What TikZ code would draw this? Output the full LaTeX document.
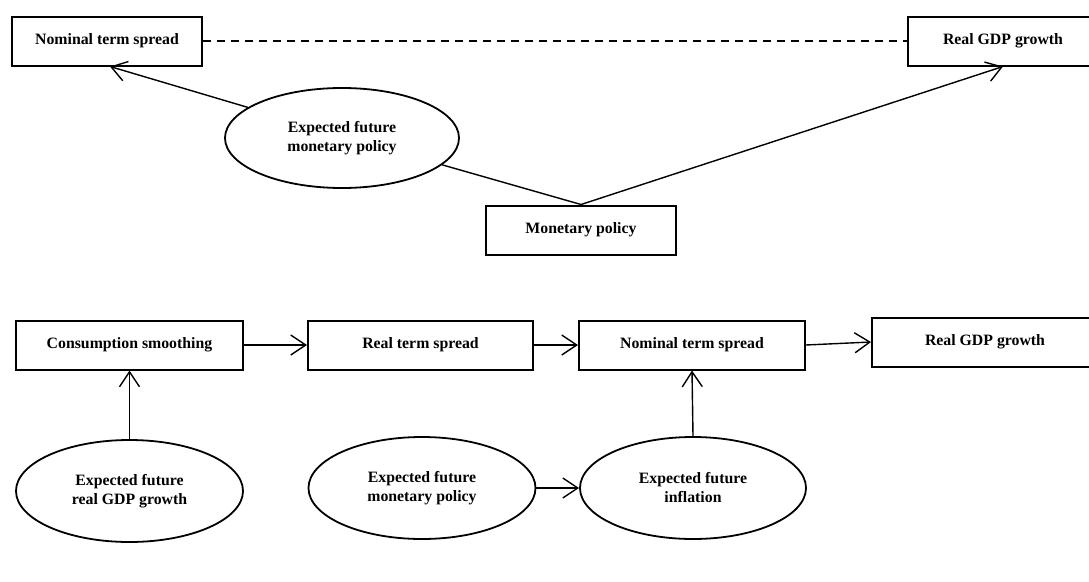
\documentclass[tikz,border=0pt]{standalone}
\usepackage{fontspec}
\setmainfont{Liberation Serif}
\usetikzlibrary{arrows.meta,shapes.geometric}
\tikzset{
  box/.style={draw, line width=2pt, rectangle, minimum width=#1, minimum height=49pt, inner sep=0pt, align=center, font=\fontsize{15.8}{19}\selectfont\bfseries},
  box/.default=190pt,
  oval/.style={draw, line width=1.8pt, ellipse, minimum width=#1, minimum height=102pt, inner sep=0pt, align=center, font=\fontsize{15.8}{19}\selectfont\bfseries},
  oval/.default=227pt,
  conn/.style={line width=1.4pt},
  arr/.style={conn, -{Straight Barb[length=15pt,width=20pt,line width=1.4pt]}},
}
\begin{document}
\begin{tikzpicture}[x=1pt,y=-1pt]
\clip (0,0) rectangle (1089,581);
% top part
\node[box] (nts1) at (107,41) {Nominal term spread};
\node[box] (rgdp1) at (1003,41) {Real GDP growth};
\node[oval=234pt, minimum height=100pt] (efmp1) at (342,138) {Expected future\\monetary policy};
\node[box] (mp) at (581,230) {Monetary policy};
\draw[conn, dash pattern=on 8pt off 6pt] (nts1.east) -- (rgdp1.west);
\draw[arr] (efmp1.162) -- ([xshift=3pt]nts1.south);
\draw[conn] (efmp1.-15) -- (mp.north);
\draw[arr] (mp.north) -- (rgdp1.south);
% bottom part
\node[box=227pt] (cs) at (129.5,345) {Consumption smoothing};
\node[box=225pt] (rts) at (420.5,345) {Real term spread};
\node[box=226pt] (nts2) at (692,345) {Nominal term spread};
\node[box=226pt] (rgdp2) at (985,342) {Real GDP growth};
\node[oval] (efg) at (129.5,491) {Expected future\\real GDP growth};
\node[oval] (efmp2) at (422,488) {Expected future\\monetary policy};
\node[oval=226pt] (efi) at (693,488) {Expected future\\inflation};
\draw[arr] (cs.east) -- (rts.west);
\draw[arr] (rts.east) -- (nts2.west);
\draw[arr] (nts2.east) -- (rgdp2.west);
\draw[arr] (efg.north) -- (cs.south);
\draw[arr] (efi.north) -- (nts2.south);
\draw[arr] (efmp2.east) -- (efi.west);
\end{tikzpicture}
\end{document}
